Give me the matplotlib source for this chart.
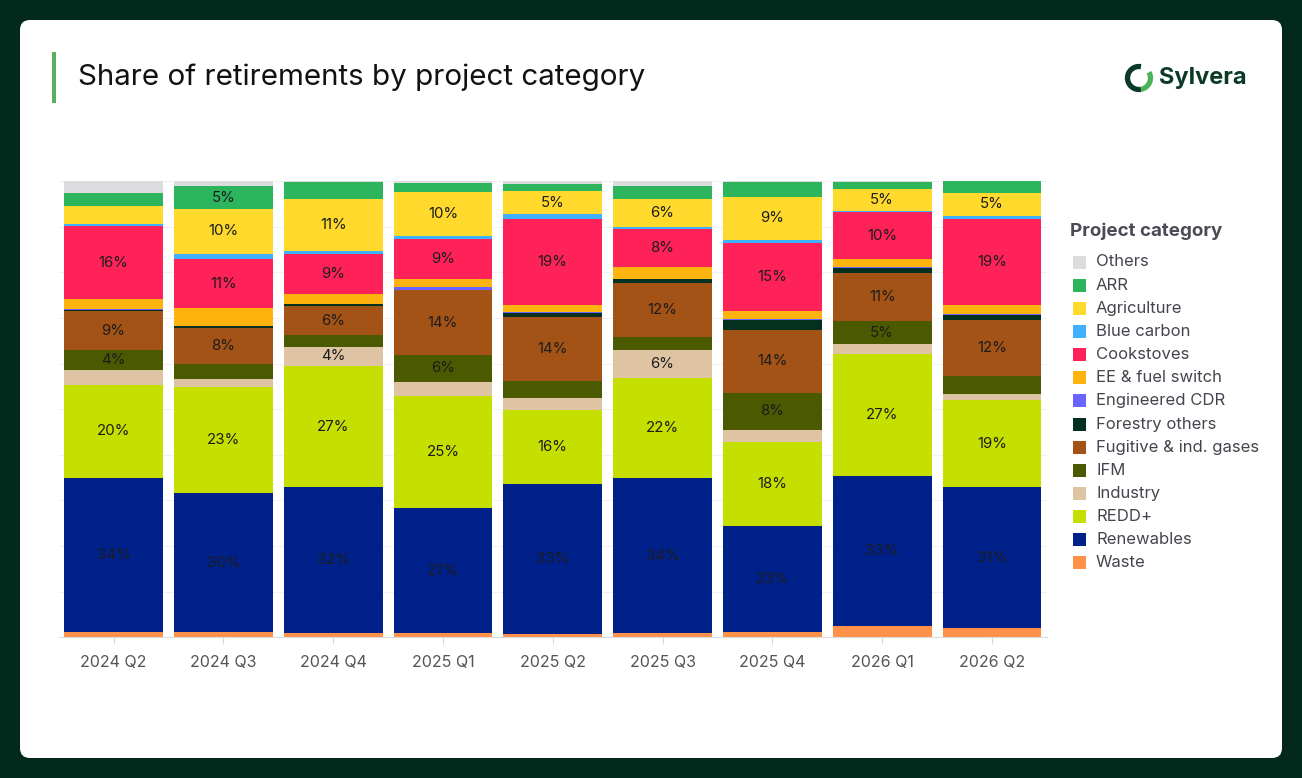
import matplotlib
matplotlib.use("Agg")
import matplotlib.pyplot as plt
import numpy as np
from matplotlib.patches import FancyBboxPatch, Rectangle, Arc

W, H = 1302, 778

quarters = ["2024 Q2", "2024 Q3", "2024 Q4", "2025 Q1", "2025 Q2",
            "2025 Q3", "2025 Q4", "2026 Q1", "2026 Q2"]

# shares in % (bottom of stack first)
waste       = [1.2, 1.2, 0.9, 0.9, 0.7, 0.9, 1.1, 2.5, 2.1]
renewables  = [33.8, 30.4, 32.0, 27.3, 32.9, 34.0, 23.4, 32.9, 30.8]
redd        = [20.3, 23.4, 26.7, 24.6, 16.3, 22.0, 18.3, 26.7, 19.1]
industry    = [3.2, 1.7, 4.2, 3.2, 2.7, 6.1, 2.7, 2.2, 1.5]
ifm         = [4.4, 3.2, 2.5, 5.8, 3.7, 2.9, 8.0, 5.0, 3.8]
fugitive    = [8.6, 8.0, 6.4, 14.2, 14.1, 11.9, 13.9, 10.7, 12.3]
forestry    = [0.3, 0.3, 0.4, 0.1, 0.9, 0.7, 2.1, 1.0, 1.2]
eng_cdr     = [0.1, 0.1, 0.1, 0.5, 0.1, 0.1, 0.2, 0.2, 0.2]
ee_fuel     = [2.2, 3.9, 2.2, 1.8, 1.7, 2.7, 1.8, 1.7, 1.9]
cookstoves  = [16.0, 10.7, 8.8, 8.7, 18.8, 8.2, 15.0, 10.3, 19.0]
blue_carbon = [0.5, 1.2, 0.7, 0.7, 1.1, 0.6, 0.6, 0.3, 0.7]
agriculture = [3.9, 9.9, 11.3, 9.6, 5.0, 6.1, 9.4, 4.8, 4.9]
arr         = [2.8, 4.9, 3.7, 2.0, 1.6, 2.7, 3.2, 1.6, 2.6]
others      = [2.7, 1.2, 0.3, 0.5, 0.7, 1.2, 0.3, 0.2, 0.1]

categories = ["Waste", "Renewables", "REDD+", "Industry", "IFM",
              "Fugitive & ind. gases", "Forestry others", "Engineered CDR",
              "EE & fuel switch", "Cookstoves", "Blue carbon", "Agriculture",
              "ARR", "Others"]
series = [waste, renewables, redd, industry, ifm, fugitive, forestry, eng_cdr,
          ee_fuel, cookstoves, blue_carbon, agriculture, arr, others]
colours = ["#ff9148", "#00218a", "#c5df00", "#dfc4a3", "#4b5a00", "#a35315",
           "#03301f", "#6a64ff", "#ffb30f", "#ff2259", "#40b1ff", "#ffd92b",
           "#2db55d", "#dcdcdf"]

FONT = ["Inter", "DejaVu Sans"]
plt.rcParams["font.family"] = FONT

fig = plt.figure(figsize=(W / 100, H / 100), dpi=100)
fig.patch.set_facecolor("#03291d")

# background layer in pixel coordinates
bg = fig.add_axes([0, 0, 1, 1], zorder=-1)
bg.set_xlim(0, W)
bg.set_ylim(H, 0)
bg.axis("off")
bg.add_patch(FancyBboxPatch((20, 20), 1262, 738,
                            boxstyle="round,pad=0,rounding_size=10",
                            facecolor="white", edgecolor="none"))
bg.add_patch(Rectangle((52, 52), 3.5, 51, facecolor="#5bae5f", edgecolor="none"))
bg.text(78, 77, "Share of retirements by project category", fontsize=21.3,
        color="#111111", va="center", ha="left")

# logo
bg.add_patch(Arc((1139, 78), 23, 23, theta1=80, theta2=280,
                 color="#0b3a26", lw=3.8))
bg.add_patch(Arc((1139, 78), 23, 23, theta1=-30, theta2=80,
                 color="#4cb35a", lw=3.8))
bg.text(1159, 78, "Sylvera", fontsize=17, fontweight="bold",
        color="#0b3a26", va="center", ha="left")

# main chart
ax = fig.add_axes([58.6 / W, 1 - 637.3 / H, (1046.9 - 58.6) / W, (637.3 - 181) / H])
ax.set_facecolor("none")

data = np.array(series, dtype=float)
data = data / data.sum(axis=0) * 100
x = np.arange(len(quarters))
bottom = np.zeros(len(quarters))
for name, vals, col in zip(categories, data, colours):
    ax.bar(x, vals, bottom=bottom, width=0.9, color=col, edgecolor="none",
           zorder=2, label=name)
    for xi, v, b in zip(x, vals, bottom):
        if v >= 4:
            ax.text(xi, b + v / 2, f"{v:.0f}%", ha="center", va="center",
                    fontsize=10.8, color="#1c1c1c", zorder=3)
    bottom += vals

ax.set_xlim(-0.5, len(quarters) - 0.5)
ax.set_ylim(0, 100)
ax.set_yticks(np.arange(0, 101, 10))
ax.yaxis.grid(True, color="#f1f1f3", linewidth=0.8, zorder=0)
ax.set_yticklabels([])
ax.tick_params(axis="y", length=0)
ax.set_xticks(x)
ax.set_xticklabels(quarters, fontsize=11.5, color="#555555")
ax.tick_params(axis="x", length=5, color="#d8d8dc", pad=8)
for side in ["left", "right", "top"]:
    ax.spines[side].set_visible(False)
ax.spines["bottom"].set_color("#dcdce0")

# legend, top to bottom
bg.text(1070, 231, "Project category", fontsize=13.5, fontweight="bold",
        color="#4b4b57", va="center", ha="left")
for i, (name, col) in enumerate(zip(categories[::-1], colours[::-1])):
    yc = 262 + i * 23.15
    bg.add_patch(Rectangle((1073, yc - 6.5), 13, 13, facecolor=col, edgecolor="none"))
    bg.text(1096, yc, name, fontsize=12, color="#45454f", va="center", ha="left")

fig.savefig("out.png", dpi=100, facecolor=fig.get_facecolor())
